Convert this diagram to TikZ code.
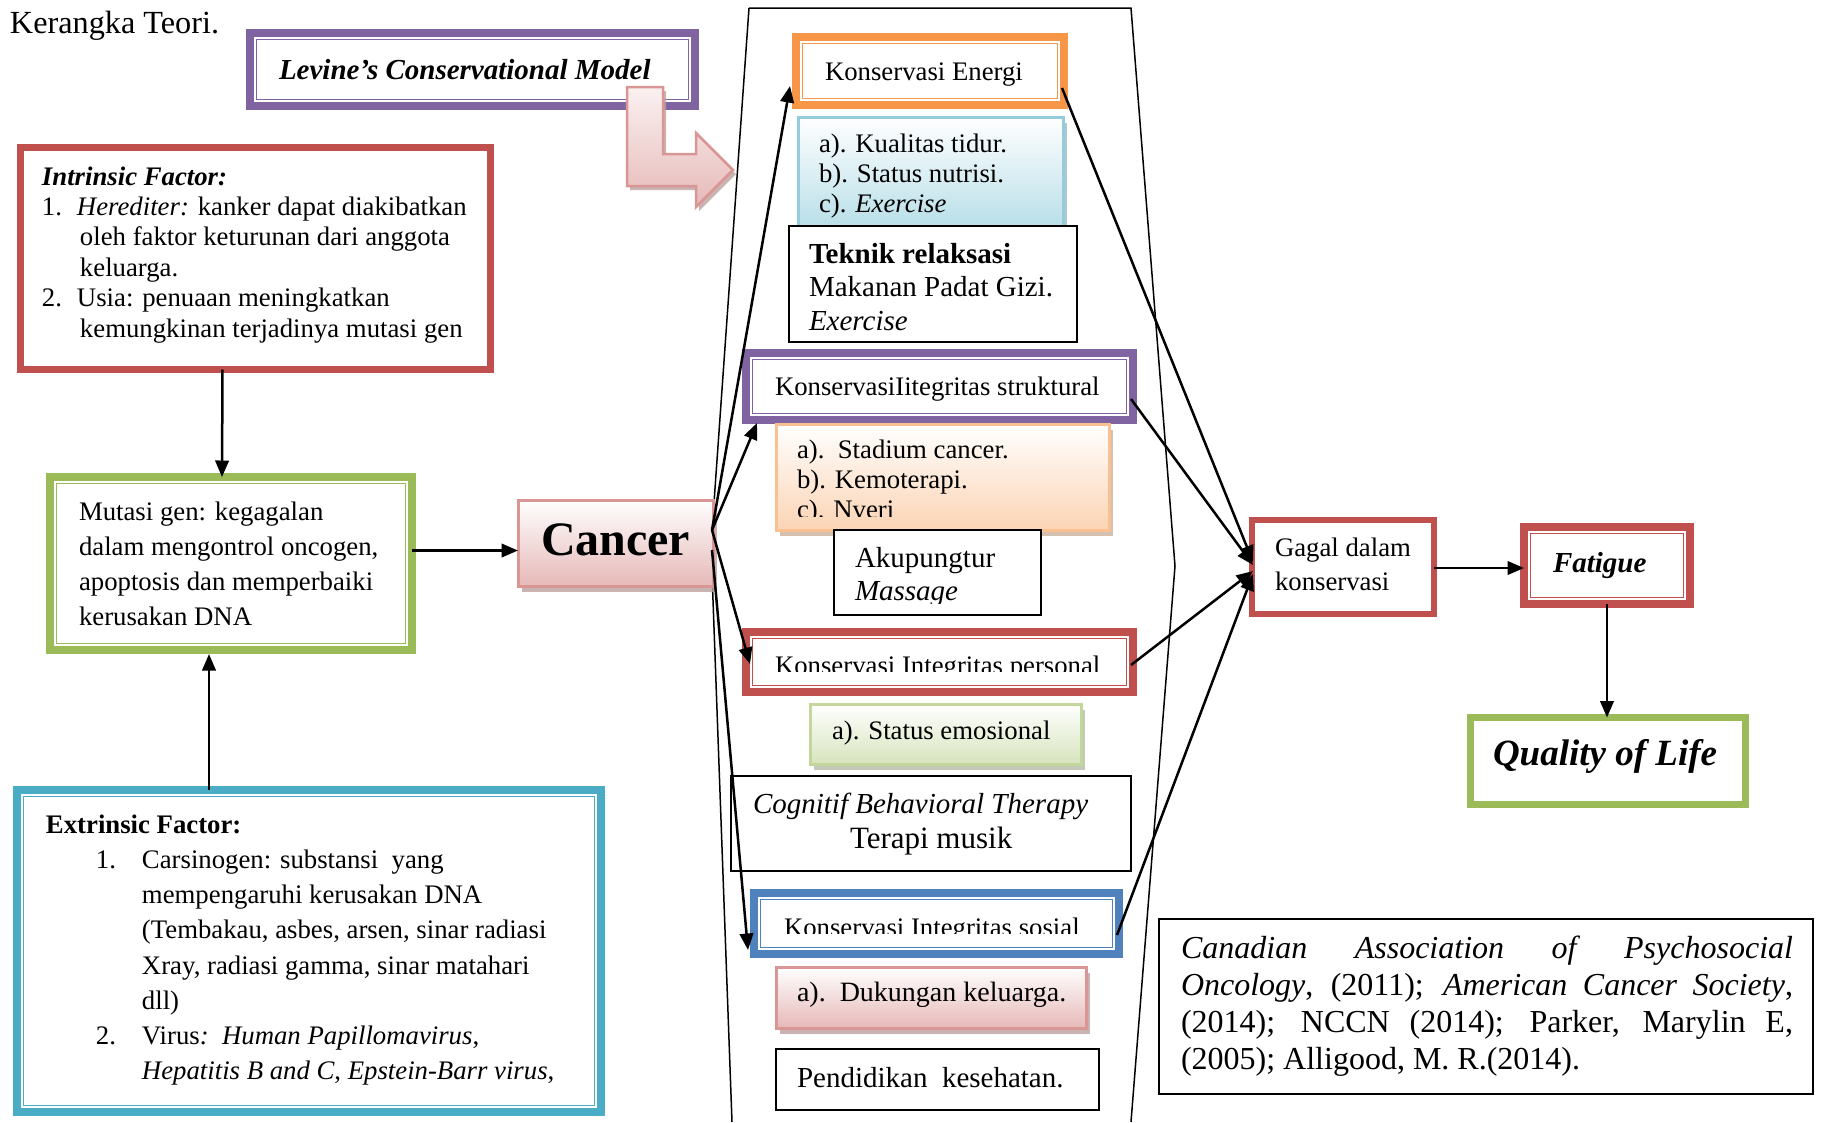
\documentclass[tikz,border=0pt]{standalone}
\usepackage{fontspec}
\setmainfont{Liberation Serif}
\usetikzlibrary{arrows.meta,fit,shadows}
\newlength\pu \setlength\pu{0.4pt}
\definecolor{cPurple}{HTML}{8064A2}
\definecolor{cRed}{HTML}{C0504D}
\definecolor{cGreen}{HTML}{9BBB59}
\definecolor{cCyan}{HTML}{4BACC6}
\definecolor{cOrange}{HTML}{F79646}
\definecolor{cBlue}{HTML}{4F81BD}
\definecolor{pinkF}{HTML}{E6B9B8}
\definecolor{pinkB}{HTML}{D99694}
\definecolor{blueF}{HTML}{B7DEE8}
\definecolor{blueB}{HTML}{93CDDD}
\definecolor{orF}{HTML}{FBD4B4}
\definecolor{orB}{HTML}{FAC090}
\definecolor{grF}{HTML}{D7E4BD}
\definecolor{grB}{HTML}{C3D69B}
\newcommand\fsz[2]{\fontsize{#1}{#2}\selectfont}
\newcommand\vlines[2]{\vtop{\baselineskip=#1\relax\lineskiplimit=-20pt\relax #2}}
\tikzset{
  txt/.style={anchor=base west, inner sep=0pt, outer sep=0pt},
  dblbox/.style={draw=#1, line width=3.2pt, fill=white, inner sep=0pt, outer sep=0pt,
    path picture={\draw[#1, line width=0.6pt]
      ([shift={(6.5,-6.5)}]path picture bounding box.south west) rectangle
      ([shift={(-6.5,6.5)}]path picture bounding box.north east);}},
  thkbox/.style={draw=#1, line width=2.8pt, fill=white, inner sep=0pt, outer sep=0pt},
  plainbox/.style={draw=black, line width=0.8pt, fill=white, inner sep=0pt, outer sep=0pt},
  gradbox/.style 2 args={draw=#1, line width=1.2pt, top color=white, bottom color=#2,
    inner sep=0pt, outer sep=0pt,
    drop shadow={shadow xshift=1.6pt, shadow yshift=-2.4pt, fill=#2!60!gray, opacity=0.8}},
  arr/.style={-{Triangle[length=6.6pt,width=5.4pt]}, line width=1pt},
  frameline/.style={line width=0.6pt},
  fA/.style={font={\fsz{10.7pt}{12pt}}},
  fB/.style={font={\fsz{11.6pt}{13pt}}}
}
\begin{document}
\begin{tikzpicture}[x=0.4pt, y=-0.4pt]
\useasboundingbox (0,0) rectangle (1822,1122);
\fill[white] (0,0) rectangle (1822,1122);

% big frame
\draw[frameline] (749,8) -- (1131,8) -- (1175,566) -- (1131,1122);
\draw[frameline] (749,8) -- (711,545) -- (732,1122);

% title
\node[txt, font={\fsz{12.9pt}{14pt}}] (title) at (10,33) {Kerangka Teori.};

% Levine
\node[dblbox=cPurple, fit={(250,33) (695,106)}] (levine) {};
\node[txt, font={\fsz{11.6pt}{13pt}\bfseries\itshape}] (levinet) at (279,79) {Levine’s Conservational Model};
\path[draw=pinkB, line width=1pt, top color=pinkF!20, bottom color=pinkF,
  drop shadow={shadow xshift=1.2pt, shadow yshift=-1.6pt, fill=pinkF!60!gray, opacity=0.8}]
  (627,87) -- (663,87) -- (663,154) -- (696,154) -- (696,133) -- (733,170)
  -- (696,207) -- (696,186) -- (627,186) -- cycle;

% Intrinsic
\node[thkbox=cRed, fit={(20.5,147.5) (490.5,369.5)}] (intr) {};
\node[txt, fA] (intrt) at (42,185) {\vlines{12.16pt}{%
  \hbox{\bfseries\itshape Intrinsic Factor:}%
  \hbox{\makebox[35\pu][l]{1.}\textit{Herediter:} kanker dapat diakibatkan}%
  \hbox{\hspace*{38\pu}oleh faktor keturunan dari anggota}%
  \hbox{\hspace*{38\pu}keluarga.}%
  \hbox{\makebox[35\pu][l]{2.}Usia: penuaan meningkatkan}%
  \hbox{\hspace*{38\pu}kemungkinan terjadinya mutasi gen}}};

% Mutasi
\node[dblbox=cGreen, fit={(50,477) (412,650)}] (mut) {};
\node[txt, fA] (mutt) at (79,520) {\vlines{14pt}{%
  \hbox{Mutasi gen: kegagalan}%
  \hbox{dalam mengontrol oncogen,}%
  \hbox{apoptosis dan memperbaiki}%
  \hbox{kerusakan DNA}}};

% Cancer
\node[gradbox={pinkB}{pinkF}, fit={(518,500) (713,586)}] (cancer) {};
\node[txt, font={\fsz{19.2pt}{22pt}\bfseries}] (cancert) at (541,555) {Cancer};

% Extrinsic
\node[dblbox=cCyan, fit={(17,790) (601,1112)}] (extr) {};
\node[txt, fA] (extrt) at (46,833) {\vlines{14.1pt}{%
  \hbox{\bfseries Extrinsic Factor:}%
  \hbox{\hspace*{50\pu}\makebox[46\pu][l]{1.}Carsinogen: substansi\ \ yang}%
  \hbox{\hspace*{96\pu}mempengaruhi kerusakan DNA}%
  \hbox{\hspace*{96\pu}(Tembakau, asbes, arsen, sinar radiasi}%
  \hbox{\hspace*{96\pu}Xray, radiasi gamma, sinar matahari}%
  \hbox{\hspace*{96\pu}dll)}%
  \hbox{\hspace*{50\pu}\makebox[46\pu][l]{2.}Virus\textit{:}\ \ \textit{Human Papillomavirus},}%
  \hbox{\hspace*{96\pu}\textit{Hepatitis B and C}, \textit{Epstein-Barr virus},}}};

% Konservasi Energi
\node[dblbox=cOrange, fit={(796,37) (1064,105)}] (energi) {};
\node[txt, fA] (energit) at (825,80) {Konservasi Energi};
\node[gradbox={blueB}{blueF}, fit={(798,117) (1063,230)}] (blist) {};
\node[txt, fA] (blistt) at (819,152) {\vlines{12pt}{%
  \hbox{a). Kualitas tidur.}%
  \hbox{b). Status nutrisi.}%
  \hbox{c). \textit{Exercise}}}};
\node[plainbox, fit={(789,226) (1077,342)}] (teknik) {};
\node[txt, fB] (teknikt) at (809,263) {\vlines{13.4pt}{%
  \hbox{\bfseries Teknik relaksasi}%
  \hbox{Makanan Padat Gizi.}%
  \hbox{\itshape Exercise}}};

% Struktural
\node[dblbox=cPurple, fit={(746,353) (1133,420)}] (strukt) {};
\node[txt, fA] (struktt) at (775,395) {KonservasiIitegritas struktural};
\node[gradbox={orB}{orF}, fit={(776,424) (1109,530)}] (olist) {};
\begin{scope}
\clip (770,426) rectangle (1105,516);
\node[txt, fA] (olistt) at (797,458) {\vlines{12pt}{%
  \hbox{a).\ \ Stadium cancer.}%
  \hbox{b). Kemoterapi.}%
  \hbox{c). Nveri}}};
\end{scope}
\node[plainbox, fit={(834,530) (1041,615)}] (akup) {};
\begin{scope}
\clip (836,532) rectangle (1039,603);
\node[txt, fB] (akupt) at (855,567) {\vlines{13.2pt}{%
  \hbox{Akupungtur}%
  \hbox{\itshape Massage}}};
\end{scope}

% Personal
\node[dblbox=cRed, fit={(746,632) (1133,692)}] (pers) {};
\begin{scope}
\clip (760,640) rectangle (1120,671);
\node[txt, fA] (perst) at (775,674) {Konservasi Integritas personal};
\end{scope}
\node[gradbox={grB}{grF}, fit={(810,704) (1081,764)}] (slist) {};
\node[txt, fA] (slistt) at (832,739) {a). Status emosional};
\node[plainbox, fit={(731,776) (1131,871)}] (cbt) {};
\node[txt, font={\fsz{11.6pt}{13pt}\itshape}] (cbtt) at (753,813) {Cognitif Behavioral Therapy};
\node[txt, font={\fsz{12.4pt}{14pt}}] (cbtm) at (850,848) {Terapi musik};

% Sosial
\node[dblbox=cBlue, fit={(754,893) (1119,954)}] (sos) {};
\begin{scope}
\clip (768,900) rectangle (1106,933);
\node[txt, fA] (sost) at (784,936) {Konservasi Integritas sosial};
\end{scope}
\node[gradbox={pinkB}{pinkF}, fit={(776,967) (1086,1028)}] (duk) {};
\node[txt, font={\fsz{11.2pt}{13pt}}] (dukt) at (797,1001) {a).\ \ Dukungan keluarga.};
\node[plainbox, fit={(776,1049) (1099,1110)}] (pend) {};
\node[txt, fB] (pendt) at (797,1087) {Pendidikan\ \ kesehatan.};

% right side
\node[thkbox=cRed, line width=2.4pt, fit={(1252,520) (1434,614)}] (gagal) {};
\node[txt, fA] (gagalt) at (1275,556) {\vlines{13.6pt}{%
  \hbox{Gagal dalam}%
  \hbox{konservasi}}};
\node[dblbox=cRed, fit={(1524,527) (1690,604)}] (fat) {};
\node[txt, font={\fsz{11.6pt}{13pt}\bfseries\itshape}] (fatt) at (1553,572) {Fatigue};
\node[thkbox=cGreen, fit={(1470.5,717.5) (1745.5,804.5)}] (qol) {};
\node[txt, font={\fsz{14.8pt}{17pt}\bfseries\itshape}] (qolt) at (1493,765) {Quality of Life};

% references
\node[plainbox, fit={(1159,919) (1813,1094)}] (refs) {};
\node[txt, font={\fsz{12.8pt}{14.9pt}}] (refst) at (1181,958) {\vtop{\hsize=244.8pt\baselineskip=14.9pt\parindent=0pt\noindent
  \textit{Canadian Association of Psychosocial}\linebreak
  \textit{Oncology}, (2011); \textit{American Cancer Society},\linebreak
  (2014); NCCN (2014); Parker, Marylin E,\linebreak
  (2005); Alligood, M. R.(2014).}};

% connectors
\draw[arr] ([shift={(-33,0)}]intr.south) -- ([shift={(-9,0)}]mut.north);
\draw[arr] ([shift={(-100,0)}]extr.north) -- ([shift={(-22,4)}]mut.south);
\draw[arr] ([shift={(0,-13)}]mut.east) coordinate (m1) -- (m1 -| cancer.west);

\draw[arr] ([shift={(-1,-13)}]cancer.east) -- ([shift={(-6,-19)}]energi.south west);
\draw[arr] ([shift={(-1,-13)}]cancer.east) -- ([shift={(11,3)}]strukt.south west);
\draw[arr] ([shift={(-1,-13)}]cancer.east) -- ([shift={(4,2)}]pers.west);
\draw[arr] ([shift={(-1,7)}]cancer.east) -- ([shift={(-6,-4)}]sos.south west);

\draw[arr] ([shift={(-2,17)}]energi.east) -- ([shift={(1,-5)}]gagal.west);
\draw[arr] ([shift={(-2,12.5)}]strukt.east) -- ([shift={(1,-2)}]gagal.west);
\draw[arr] ([shift={(-2,3)}]pers.east) -- ([shift={(1,4)}]gagal.west);
\draw[arr] ([shift={(-2,11.5)}]sos.east) -- ([shift={(1,7)}]gagal.west);

\draw[arr] ([shift={(0,1)}]gagal.east) coordinate (g1) -- (g1 -| fat.west);
\draw[arr] (fat.south) -- (fat.south |- qol.north);
\end{tikzpicture}
\end{document}
